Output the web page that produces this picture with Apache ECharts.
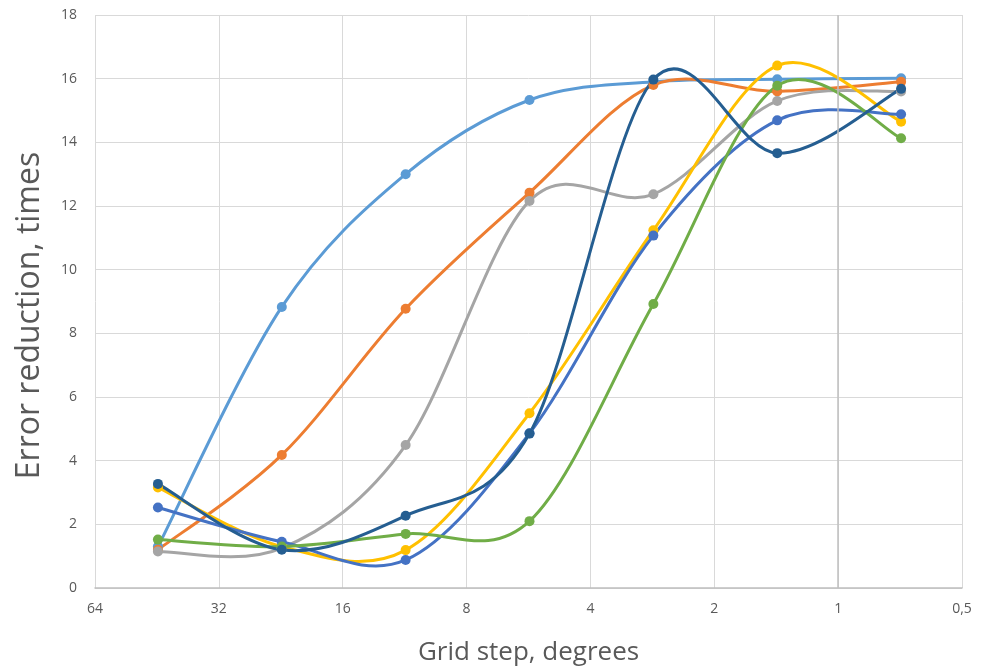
<!DOCTYPE html>
<html>
<head>
<meta charset="utf-8">
<script src="https://cdn.jsdelivr.net/npm/echarts@6/dist/echarts.min.js"></script>
<style>
  html, body { margin: 0; padding: 0; background: #fff; }
  #chart { width: 991px; height: 671px; }
</style>
</head>
<body>
<div id="chart"></div>
<script>
// grid steps in degrees (360/8, 360/16, ...)
const gridSteps = [45, 22.5, 11.25, 5.625, 2.8125, 1.40625, 0.703125];

const seriesA = [1.3, 8.83, 13.0, 15.33, 15.9, 15.98, 16.01];
const seriesB = [1.2, 4.18, 8.77, 12.42, 15.8, 15.6, 15.9];
const seriesC = [1.15, 1.25, 4.49, 12.16, 12.37, 15.3, 15.6];
const seriesD = [3.16, 1.3, 1.19, 5.49, 11.24, 16.41, 14.65];
const seriesE = [2.53, 1.45, 0.88, 4.86, 11.07, 14.69, 14.88];
const seriesF = [1.52, 1.3, 1.7, 2.1, 8.92, 15.78, 14.13];
const seriesG = [3.27, 1.2, 2.27, 4.85, 15.97, 13.66, 15.68];

const allSeries = [seriesA, seriesB, seriesC, seriesD, seriesE, seriesF, seriesG];
const colors = ['#5B9BD5', '#ED7D31', '#A5A5A5', '#FFC000', '#4472C4', '#70AD47', '#255E91'];

const textColor = '#595959';
const fontFamily = '"Open Sans", "Noto Sans", sans-serif';

// Excel-like smoothed line: cubic bezier with tangents (next - prev) / 6
function smoothPath(pts) {
    let d = 'M' + pts[0][0] + ' ' + pts[0][1];
    for (let i = 0; i < pts.length - 1; i++) {
        const p0 = pts[i - 1] || pts[i];
        const p1 = pts[i];
        const p2 = pts[i + 1];
        const p3 = pts[i + 2] || pts[i + 1];
        const c1x = p1[0] + (p2[0] - p0[0]) / 6;
        const c1y = p1[1] + (p2[1] - p0[1]) / 6;
        const c2x = p2[0] - (p3[0] - p1[0]) / 6;
        const c2y = p2[1] - (p3[1] - p1[1]) / 6;
        d += ' C' + c1x + ' ' + c1y + ' ' + c2x + ' ' + c2y + ' ' + p2[0] + ' ' + p2[1];
    }
    return d;
}

const chart = echarts.init(document.getElementById('chart'));

const series = [];
allSeries.forEach(function (vals, i) {
    const data = gridSteps.map(function (x, j) { return [x, vals[j]]; });
    series.push({
        type: 'custom',
        data: data,
        encode: { x: 0, y: 1 },
        silent: true,
        renderItem: function (params, api) {
            if (params.dataIndex !== 0) return null;
            const pts = data.map(function (p) { return api.coord(p); });
            return {
                type: 'path',
                shape: { pathData: smoothPath(pts) },
                style: { fill: 'none', stroke: colors[i], lineWidth: 3 }
            };
        }
    });
    const dots = {
        type: 'scatter',
        symbol: 'circle',
        symbolSize: 10,
        data: data,
        itemStyle: { color: colors[i], opacity: 1 }
    };
    if (i === 0) {
        // vertical axis crosses at 1
        dots.markLine = {
            silent: true,
            symbol: 'none',
            label: { show: false },
            lineStyle: { color: '#BFBFBF', width: 1.5, type: 'solid' },
            data: [{ xAxis: 1 }]
        };
    }
    series.push(dots);
});

chart.setOption({
    animation: false,
    grid: { left: 95, right: 29, top: 15, bottom: 83 },
    xAxis: {
        type: 'log',
        logBase: 2,
        inverse: true,
        min: 0.5,
        max: 64,
        interval: 1,
        splitNumber: 7,
        name: 'Grid step, degrees',
        nameLocation: 'middle',
        nameGap: 52,
        nameTextStyle: { color: textColor, fontSize: 26, fontFamily: fontFamily },
        axisLine: { show: true, lineStyle: { color: '#BFBFBF', width: 1.5 } },
        axisTick: { show: false },
        axisLabel: {
            color: textColor,
            fontSize: 14,
            fontFamily: fontFamily,
            margin: 14,
            formatter: function (v) { return String(v).replace('.', ','); }
        },
        splitLine: { show: true, lineStyle: { color: '#D9D9D9', width: 1 } }
    },
    yAxis: {
        type: 'value',
        min: 0,
        max: 18,
        interval: 2,
        name: 'Error reduction, times',
        nameLocation: 'middle',
        nameGap: 49,
        nameTextStyle: {
            color: textColor,
            fontSize: 32,
            fontFamily: fontFamily,
            padding: [0, 28, 0, 0]
        },
        axisLine: { show: false },
        axisTick: { show: false },
        axisLabel: { color: textColor, fontSize: 14, fontFamily: fontFamily, margin: 18 },
        splitLine: { show: true, lineStyle: { color: '#D9D9D9', width: 1 } }
    },
    series: series
});
</script>
</body>
</html>
